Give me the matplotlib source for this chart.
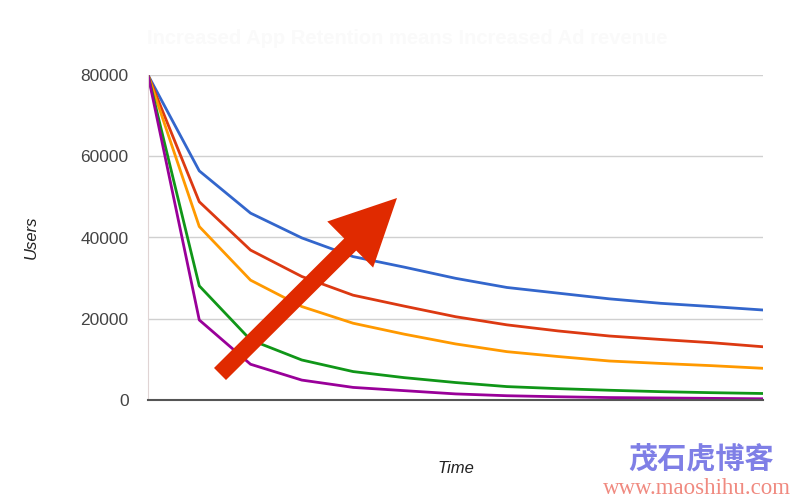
import matplotlib
matplotlib.use('Agg')
import matplotlib.pyplot as plt
from matplotlib.patches import FancyArrow
from matplotlib.transforms import IdentityTransform

# ================================================
# Data: users remaining over time, one curve per retention level
# ================================================
time_steps = list(range(13))
series_names = ['best', 'good', 'medium', 'poor', 'worst']
series_colors = ['#3366cc', '#dc3912', '#ff9900', '#109618', '#990099']

users_best = [80000, 56400, 46000, 39900, 35300, 32700, 29950, 27700, 26300, 24900, 23800, 23000, 22150]
users_good = [80000, 48800, 36900, 30400, 25800, 23100, 20500, 18500, 17000, 15750, 14900, 14100, 13100]
users_medium = [80000, 42700, 29500, 23000, 18900, 16200, 13800, 11900, 10700, 9600, 9000, 8450, 7800]
users_poor = [80000, 28100, 14800, 9850, 7000, 5500, 4300, 3300, 2800, 2400, 2050, 1800, 1600]
users_worst = [80000, 19700, 8800, 4900, 3100, 2300, 1500, 1050, 800, 600, 500, 400, 300]

all_series = [users_best, users_good, users_medium, users_poor, users_worst]
y_ticks = [0, 20000, 40000, 60000, 80000]

plt.rcParams['font.family'] = ['Liberation Sans', 'DejaVu Sans']

fig = plt.figure(figsize=(8, 5), dpi=100)
ax = fig.add_axes([0.185, 0.2, 0.769, 0.65])

for vals, col, name in zip(all_series, series_colors, series_names):
    ax.plot(time_steps, vals, color=col, linewidth=2, label=name, solid_joinstyle='round')

ax.set_xlim(0, 12)
ax.set_ylim(0, 80000)
ax.set_yticks(y_ticks)
ax.set_yticklabels([str(v) for v in y_ticks], color='#444444', fontsize=12.5)
ax.set_xticks([])
ax.tick_params(axis='y', length=0, pad=14)
ax.grid(axis='y', color='#d0d0d0', linewidth=1)
ax.set_axisbelow(True)

for side in ['top', 'right']:
    ax.spines[side].set_visible(False)
ax.spines['left'].set_color('#e0d4d4')
ax.spines['bottom'].set_color('#555555')
ax.spines['bottom'].set_linewidth(1.5)

ax.set_ylabel('Users', fontstyle='italic', fontsize=12, color='#222222', labelpad=30)
ax.set_xlabel('Time', fontstyle='italic', fontsize=12, color='#222222', labelpad=44)

# faint title
fig.text(0.184, 0.922, 'Increased App Retention means Increased Ad revenue',
         fontsize=14.5, fontweight='bold', color='#fafafa', ha='left', va='center')

# big red arrow overlay
arrow = FancyArrow(220, 126, 177, 176, width=17, head_width=65, head_length=66,
                   length_includes_head=True, color='#e02a00', linewidth=0,
                   transform=IdentityTransform())
fig.patches.append(arrow)

# watermark
fig.text(0.877, 0.083, '茂石虎博客', family=['Noto Sans CJK SC', 'DejaVu Sans'],
         fontsize=21, fontweight='bold', color='#7f7fe6', ha='center', va='center')
fig.text(0.871, 0.024, 'www.maoshihu.com', family=['Liberation Serif', 'DejaVu Serif'],
         fontsize=16.5, color='#f08a80', ha='center', va='center')

plt.savefig('out.png', dpi=100)
